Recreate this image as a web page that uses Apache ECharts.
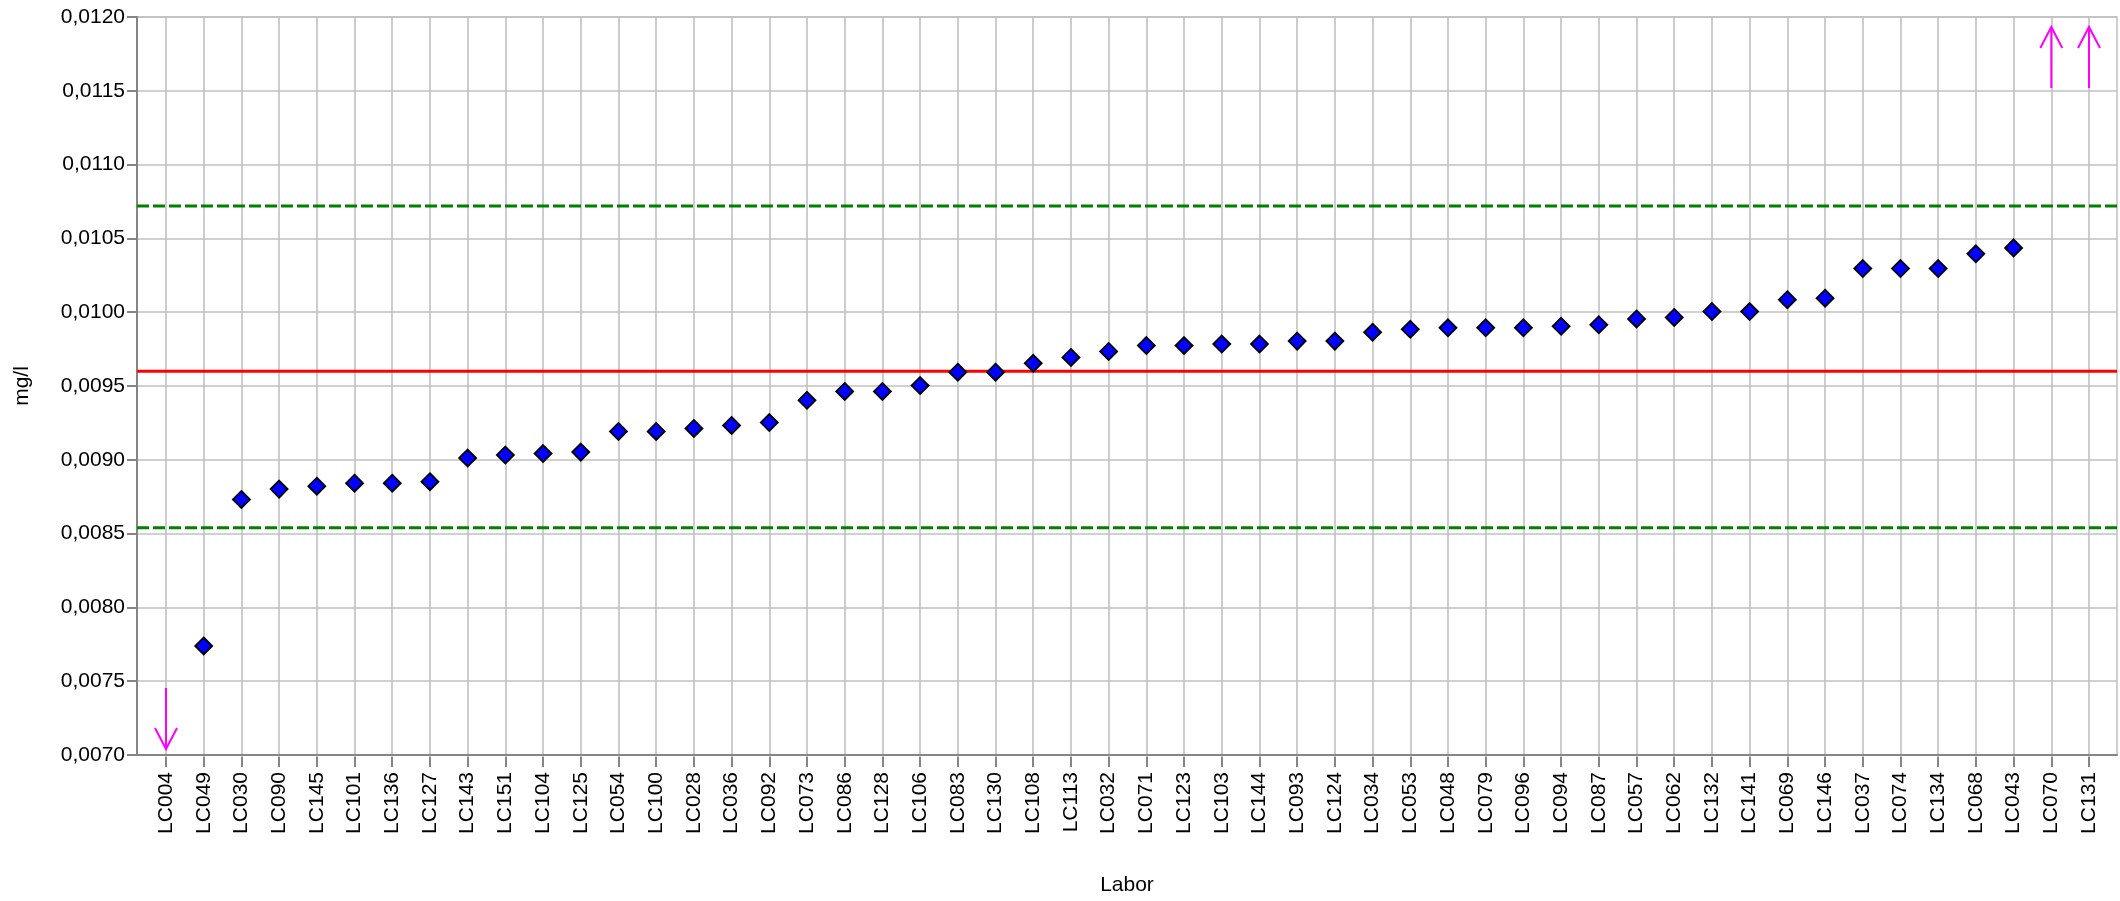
<!DOCTYPE html>
<html>
<head>
<meta charset="utf-8">
<title>Labor – mg/l</title>
<script src="https://cdn.jsdelivr.net/npm/echarts@6/dist/echarts.min.js"></script>
<style>
  html, body { margin: 0; padding: 0; background: #fff; }
  #chart { width: 2120px; height: 901px; }
</style>
</head>
<body>
<div id="chart"></div>
<script>
// Laboratories, sorted by reported result
const categories = [
  'LC004','LC049','LC030','LC090','LC145','LC101','LC136','LC127','LC143','LC151',
  'LC104','LC125','LC054','LC100','LC028','LC036','LC092','LC073','LC086','LC128',
  'LC106','LC083','LC130','LC108','LC113','LC032','LC071','LC123','LC103','LC144',
  'LC093','LC124','LC034','LC053','LC048','LC079','LC096','LC094','LC087','LC057',
  'LC062','LC132','LC141','LC069','LC146','LC037','LC074','LC134','LC068','LC043',
  'LC070','LC131'
];

// Reported results in mg/l (null = outside the displayed range)
const results = [
  null,    0.00775, 0.00874, 0.00881, 0.00883, 0.00885, 0.00885, 0.00886, 0.00902, 0.00904,
  0.00905, 0.00906, 0.00920, 0.00920, 0.00922, 0.00924, 0.00926, 0.00941, 0.00947, 0.00947,
  0.00951, 0.00960, 0.00960, 0.00966, 0.00970, 0.00974, 0.00978, 0.00978, 0.00979, 0.00979,
  0.00981, 0.00981, 0.00987, 0.00989, 0.00990, 0.00990, 0.00990, 0.00991, 0.00992, 0.00996,
  0.00997, 0.01001, 0.01001, 0.01009, 0.01010, 0.01030, 0.01030, 0.01030, 0.01040, 0.01044,
  null,    null
];

// Results beyond the axis: -1 below the minimum, +1 above the maximum
const outOfRange = [
  ['LC004', -1],
  ['LC070', 1],
  ['LC131', 1]
];

// Assigned value and tolerance limits (mg/l)
const assignedValue = 0.0096;
const lowerLimit = 0.00854;
const upperLimit = 0.01072;

// Value axis range and tick step
const yMin = 0.0070;
const yMax = 0.0120;
const yStep = 0.0005;

const FONT = '"Liberation Sans", Arial, Helvetica, sans-serif';
const AXIS_GREY = '#858585';
const GRID_GREY = '#c0c0c0';

const chart = echarts.init(document.getElementById('chart'), null, { renderer: 'canvas' });

function hLine(name, value, color, type) {
  return {
    name: name,
    type: 'line',
    xAxisIndex: 0,
    yAxisIndex: 0,
    data: [[0, value], [1, value]],
    symbol: 'none',
    silent: true,
    z: 3,
    lineStyle: { color: color, width: 3, type: type }
  };
}

const option = {
  backgroundColor: '#ffffff',
  animation: false,
  textStyle: { fontFamily: FONT },
  grid: [
    // outer frame: value axis, horizontal grid, reference lines
    { left: 137, top: 17, right: 3, bottom: 144, show: true, borderColor: GRID_GREY, borderWidth: 1.5, backgroundColor: '#ffffff' },
    // laboratory positions
    { left: 166, top: 17, right: 31, bottom: 144 }
  ],
  xAxis: [
    {
      type: 'value', gridIndex: 0, min: 0, max: 1,
      axisLine: { show: true, lineStyle: { color: AXIS_GREY, width: 2 } },
      axisTick: { show: false },
      axisLabel: { show: false },
      splitLine: { show: false },
      name: 'Labor',
      nameLocation: 'middle',
      nameGap: 120,
      nameTextStyle: { fontSize: 21, color: '#000', fontFamily: FONT }
    },
    {
      type: 'category', gridIndex: 1, data: categories, boundaryGap: false,
      axisLine: { show: false },
      axisTick: { show: true, length: 10, lineStyle: { color: AXIS_GREY, width: 2 } },
      axisLabel: { rotate: 90, interval: 0, margin: 15, fontSize: 21, color: '#000', fontFamily: FONT },
      splitLine: { show: true, lineStyle: { color: GRID_GREY, width: 1.6 } }
    }
  ],
  yAxis: [
    {
      type: 'value', gridIndex: 0, min: yMin, max: yMax, interval: yStep,
      axisLine: { show: true, lineStyle: { color: AXIS_GREY, width: 2 } },
      axisTick: { show: true, length: 10, lineStyle: { color: AXIS_GREY, width: 2 } },
      axisLabel: {
        margin: 12, fontSize: 21, color: '#000', fontFamily: FONT,
        formatter: v => v.toFixed(4).replace('.', ',')
      },
      splitLine: { show: true, lineStyle: { color: GRID_GREY, width: 1.6 } },
      name: 'mg/l',
      nameLocation: 'middle',
      nameGap: 104,
      nameRotate: 90,
      nameTextStyle: { fontSize: 21, color: '#000', fontFamily: FONT }
    },
    {
      type: 'value', gridIndex: 1, min: yMin, max: yMax, interval: yStep,
      show: false
    }
  ],
  series: [
    hLine('Assigned value', assignedValue, '#ff0000', 'solid'),
    hLine('Lower limit', lowerLimit, '#008000', [12, 4]),
    hLine('Upper limit', upperLimit, '#008000', [12, 4]),
    {
      name: 'Result',
      type: 'scatter',
      xAxisIndex: 1,
      yAxisIndex: 1,
      data: results.map(v => (v == null ? '-' : v)),
      symbol: 'diamond',
      symbolSize: 17,
      z: 5,
      itemStyle: { color: '#0000ff', borderColor: '#000000', borderWidth: 1.8, opacity: 1 }
    },
    {
      name: 'Out of range',
      type: 'custom',
      xAxisIndex: 1,
      yAxisIndex: 1,
      data: outOfRange.map(d => [categories.indexOf(d[0]), d[1]]),
      encode: { x: 0, y: 1 },
      clip: false,
      z: 6,
      renderItem: function (params, api) {
        const idx = api.value(0);
        const dir = api.value(1);
        const x = api.coord([idx, yMin])[0];
        const yBottom = api.coord([idx, yMin])[1];
        const yTop = api.coord([idx, yMax])[1];
        let tip, tail, headY;
        if (dir < 0) {
          tip = yBottom - 8;
          tail = tip - 61;
          headY = tip - 21;
        } else {
          tip = yTop + 10;
          tail = tip + 61;
          headY = tip + 21;
        }
        const style = { stroke: '#ff00ff', lineWidth: 2, fill: null };
        return {
          type: 'group',
          children: [
            { type: 'polyline', shape: { points: [[x, tail], [x, tip]] }, style: style },
            { type: 'polyline', shape: { points: [[x - 11, headY], [x, tip], [x + 11, headY]] }, style: style }
          ]
        };
      }
    }
  ]
};

chart.setOption(option);
</script>
</body>
</html>
